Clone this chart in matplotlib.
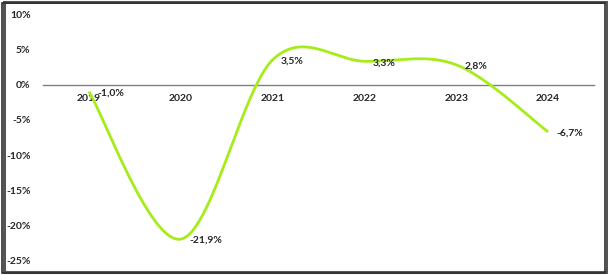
import numpy as np
import matplotlib
matplotlib.use("Agg")
import matplotlib.pyplot as plt
from matplotlib.patches import Rectangle
from matplotlib.ticker import FuncFormatter

years = ["2019", "2020", "2021", "2022", "2023", "2024"]
growth = [-1.0, -21.9, 3.5, 3.3, 2.8, -6.7]

LINE_COLOR = "#a6ec18"
TEXT_COLOR = "#262626"


def smooth_curve(x, y, n=60):
    # Excel-like smoothing: Catmull-Rom tangents as cubic Bezier control points
    x = np.asarray(x, float)
    y = np.asarray(y, float)
    pts = np.column_stack([x, y])
    out = []
    for i in range(len(pts) - 1):
        p0 = pts[max(i - 1, 0)]
        p1 = pts[i]
        p2 = pts[i + 1]
        p3 = pts[min(i + 2, len(pts) - 1)]
        c1 = p1 + (p2 - p0) / 6.0
        c2 = p2 - (p3 - p1) / 6.0
        t = np.linspace(0, 1, n)[:, None]
        seg = ((1 - t) ** 3) * p1 + 3 * ((1 - t) ** 2) * t * c1 \
            + 3 * (1 - t) * t ** 2 * c2 + t ** 3 * p2
        out.append(seg if i == 0 else seg[1:])
    s = np.vstack(out)
    return s[:, 0], s[:, 1]


def main():
    plt.rcParams["font.family"] = ["Lato", "DejaVu Sans"]

    fig = plt.figure(figsize=(6.08, 2.75), dpi=100)
    ax = fig.add_axes([43 / 608, 1 - 261 / 275, (594 - 43) / 608, (261 - 14) / 275])

    xpos = np.arange(len(years))
    sx, sy = smooth_curve(xpos, growth)
    ax.plot(sx, sy, color=LINE_COLOR, linewidth=2.0, solid_capstyle="butt", zorder=3)

    for xi, v in zip(xpos, growth):
        ax.annotate(f"{v:.1f}%".replace(".", ","), (xi, v),
                    xytext=(6, -1), textcoords="offset points",
                    ha="left", va="center", fontsize=7.5,
                    fontweight="bold", color=TEXT_COLOR, zorder=4)

    ax.set_xlim(-0.5, len(years) - 0.5)
    ax.set_ylim(-25, 10)
    ax.set_yticks(np.arange(-25, 11, 5))
    ax.yaxis.set_major_formatter(FuncFormatter(lambda v, _: f"{int(round(v))}%"))
    ax.set_xticks(xpos)
    ax.set_xticklabels(years)

    for side in ("top", "right", "left"):
        ax.spines[side].set_visible(False)
    ax.spines["bottom"].set_position(("data", 0))
    ax.spines["bottom"].set_color("#7f7f7f")
    ax.spines["bottom"].set_linewidth(1.0)

    ax.tick_params(axis="x", length=0, pad=7, labelsize=7.5, labelcolor=TEXT_COLOR)
    ax.tick_params(axis="y", length=0, pad=9, labelsize=7.5, labelcolor=TEXT_COLOR)
    for lbl in ax.get_xticklabels() + ax.get_yticklabels():
        lbl.set_fontweight("bold")

    # chart border with a slight shadow on right / bottom
    fig.patches.append(Rectangle((3.5 / 608, 3.5 / 275), 603 / 608, 270 / 275,
                                 transform=fig.transFigure, fill=False,
                                 edgecolor="#555555", linewidth=2.2))
    fig.patches.append(Rectangle((2.0 / 608, 2.5 / 275), 603 / 608, 270 / 275,
                                 transform=fig.transFigure, fill=False,
                                 edgecolor="#2e2e2e", linewidth=1.2))

    fig.savefig("out.png", dpi=100)


if __name__ == "__main__":
    main()
